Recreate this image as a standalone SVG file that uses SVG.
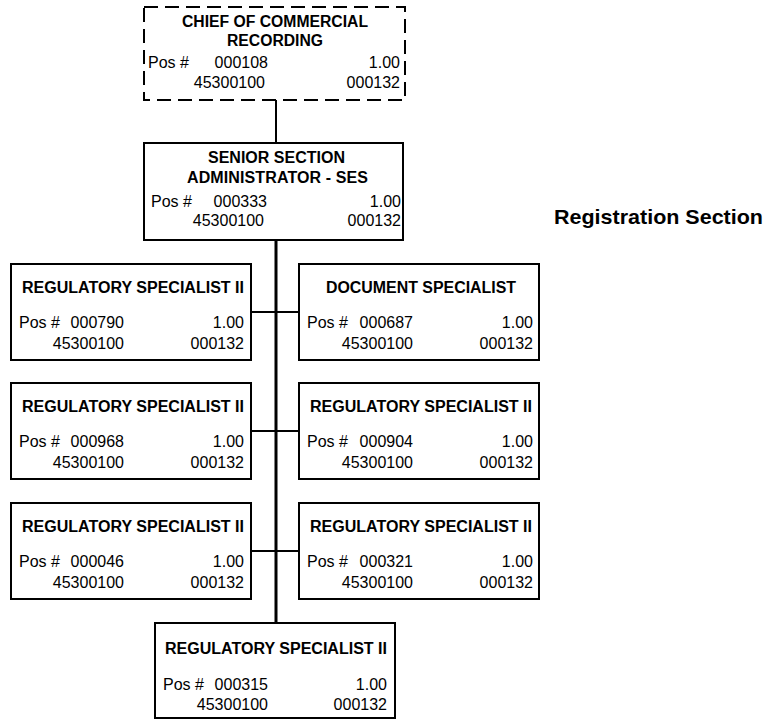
<svg xmlns="http://www.w3.org/2000/svg" width="769" height="721" viewBox="0 0 769 721">
  <style>
    .box { fill: #ffffff; stroke: #000000; stroke-width: 2; }
    .dashed { stroke-dasharray: 14 7; }
    .ttl { font-family: "Liberation Sans", Arial, sans-serif; font-size: 16px; font-weight: bold; text-anchor: middle; fill: #000; }
    .txt { font-family: "Liberation Sans", Arial, sans-serif; font-size: 16px; fill: #000; }
    .end { text-anchor: end; }
    .section { font-family: "Liberation Sans", Arial, sans-serif; font-size: 21px; font-weight: bold; fill: #000; }
    .wire { stroke: #000000; stroke-width: 2; fill: none; }
    .trunk { stroke: #000000; stroke-width: 3; fill: none; }
  </style>

  <rect width="769" height="721" fill="#ffffff"/>

  <!-- connectors -->
  <g id="connectors">
    <line class="wire" x1="276" y1="100" x2="276" y2="143"/>
    <line class="trunk" x1="276" y1="240" x2="276" y2="623"/>
    <line class="wire" x1="251" y1="312" x2="299" y2="312"/>
    <line class="wire" x1="251" y1="431" x2="299" y2="431"/>
    <line class="wire" x1="251" y1="551" x2="299" y2="551"/>
  </g>

  <!-- chief (dashed outline) -->
  <g id="chief">
    <rect class="box dashed" x="144" y="7" width="261" height="93"/>
    <text class="ttl" x="275" y="27" textLength="186" lengthAdjust="spacingAndGlyphs">CHIEF OF COMMERCIAL</text>
    <text class="ttl" x="275" y="46" textLength="96" lengthAdjust="spacingAndGlyphs">RECORDING</text>
    <text class="txt" x="148" y="68">Pos #</text>
    <text class="txt end" x="268" y="68">000108</text>
    <text class="txt end" x="400" y="68">1.00</text>
    <text class="txt end" x="265" y="88">45300100</text>
    <text class="txt end" x="400" y="88">000132</text>
  </g>

  <!-- senior section administrator -->
  <g id="senior-admin">
    <rect class="box" x="144" y="143" width="259" height="97"/>
    <text class="ttl" x="276.5" y="163" textLength="137" lengthAdjust="spacing">SENIOR SECTION</text>
    <text class="ttl" x="277.5" y="183" textLength="181" lengthAdjust="spacing">ADMINISTRATOR - SES</text>
    <text class="txt" x="151" y="207">Pos #</text>
    <text class="txt end" x="267" y="207">000333</text>
    <text class="txt end" x="401" y="207">1.00</text>
    <text class="txt end" x="264" y="226">45300100</text>
    <text class="txt end" x="401" y="226">000132</text>
  </g>

  <text class="section" x="554" y="224" textLength="209" lengthAdjust="spacingAndGlyphs">Registration Section</text>

  <!-- row 1 -->
  <g id="pos-000790">
    <rect class="box" x="11" y="264" width="240" height="96"/>
    <text class="ttl" x="133" y="293" textLength="222" lengthAdjust="spacingAndGlyphs">REGULATORY SPECIALIST II</text>
    <text class="txt" x="19" y="328">Pos #</text>
    <text class="txt end" x="124" y="328">000790</text>
    <text class="txt end" x="244" y="328">1.00</text>
    <text class="txt end" x="124" y="349">45300100</text>
    <text class="txt end" x="244" y="349">000132</text>
  </g>
  <g id="pos-000687">
    <rect class="box" x="299" y="264" width="240" height="96"/>
    <text class="ttl" x="421" y="293" textLength="190" lengthAdjust="spacingAndGlyphs">DOCUMENT SPECIALIST</text>
    <text class="txt" x="307" y="328">Pos #</text>
    <text class="txt end" x="413" y="328">000687</text>
    <text class="txt end" x="533" y="328">1.00</text>
    <text class="txt end" x="413" y="349">45300100</text>
    <text class="txt end" x="533" y="349">000132</text>
  </g>

  <!-- row 2 -->
  <g id="pos-000968">
    <rect class="box" x="11" y="383" width="240" height="96"/>
    <text class="ttl" x="133" y="412" textLength="222" lengthAdjust="spacingAndGlyphs">REGULATORY SPECIALIST II</text>
    <text class="txt" x="19" y="447">Pos #</text>
    <text class="txt end" x="124" y="447">000968</text>
    <text class="txt end" x="244" y="447">1.00</text>
    <text class="txt end" x="124" y="468">45300100</text>
    <text class="txt end" x="244" y="468">000132</text>
  </g>
  <g id="pos-000904">
    <rect class="box" x="299" y="383" width="240" height="96"/>
    <text class="ttl" x="421" y="412" textLength="222" lengthAdjust="spacingAndGlyphs">REGULATORY SPECIALIST II</text>
    <text class="txt" x="307" y="447">Pos #</text>
    <text class="txt end" x="413" y="447">000904</text>
    <text class="txt end" x="533" y="447">1.00</text>
    <text class="txt end" x="413" y="468">45300100</text>
    <text class="txt end" x="533" y="468">000132</text>
  </g>

  <!-- row 3 -->
  <g id="pos-000046">
    <rect class="box" x="11" y="503" width="240" height="96"/>
    <text class="ttl" x="133" y="532" textLength="222" lengthAdjust="spacingAndGlyphs">REGULATORY SPECIALIST II</text>
    <text class="txt" x="19" y="567">Pos #</text>
    <text class="txt end" x="124" y="567">000046</text>
    <text class="txt end" x="244" y="567">1.00</text>
    <text class="txt end" x="124" y="588">45300100</text>
    <text class="txt end" x="244" y="588">000132</text>
  </g>
  <g id="pos-000321">
    <rect class="box" x="299" y="503" width="240" height="96"/>
    <text class="ttl" x="421" y="532" textLength="222" lengthAdjust="spacingAndGlyphs">REGULATORY SPECIALIST II</text>
    <text class="txt" x="307" y="567">Pos #</text>
    <text class="txt end" x="413" y="567">000321</text>
    <text class="txt end" x="533" y="567">1.00</text>
    <text class="txt end" x="413" y="588">45300100</text>
    <text class="txt end" x="533" y="588">000132</text>
  </g>

  <!-- bottom -->
  <g id="pos-000315">
    <rect class="box" x="155" y="623" width="240" height="95"/>
    <text class="ttl" x="276" y="654" textLength="222" lengthAdjust="spacingAndGlyphs">REGULATORY SPECIALIST II</text>
    <text class="txt" x="163" y="690">Pos #</text>
    <text class="txt end" x="268" y="690">000315</text>
    <text class="txt end" x="387" y="690">1.00</text>
    <text class="txt end" x="268" y="710">45300100</text>
    <text class="txt end" x="387" y="710">000132</text>
  </g>
</svg>
